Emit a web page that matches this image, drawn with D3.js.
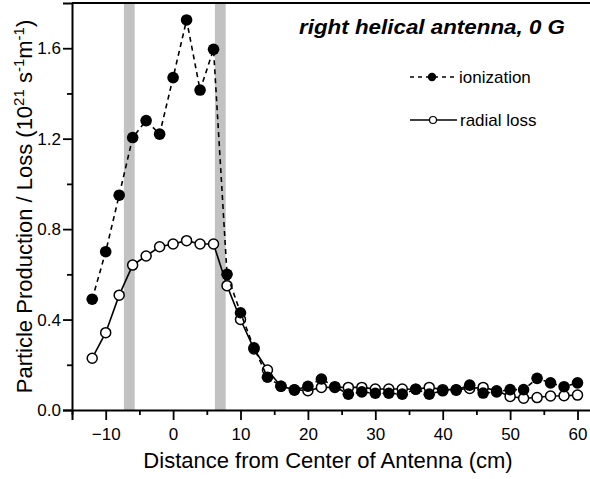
<!DOCTYPE html>
<html>
<head>
<meta charset="utf-8">
<script src="https://cdn.jsdelivr.net/npm/d3@7"></script>
<style>
  body { margin: 0; background: #fff; }
  svg { display: block; font-family: "Liberation Sans", Arial, Helvetica, sans-serif; }
</style>
</head>
<body>
<div id="chart"></div>
<script>
// distance from antenna centre (cm)
const distance = [-12, -10, -8, -6, -4, -2, 0, 2, 4, 6, 8, 10, 12, 14, 16, 18, 20, 22, 24,
  26, 28, 30, 32, 34, 36, 38, 40, 42, 44, 46, 48, 50, 52, 54, 56, 58, 60]

// 10^21 s^-1 m^-1
const ionization = [0.49, 0.70, 0.95, 1.205, 1.28, 1.22, 1.47, 1.725, 1.415, 1.595, 0.60, 0.43, 0.275,
  0.145, 0.105, 0.088, 0.105, 0.137, 0.103, 0.07, 0.08, 0.074, 0.074, 0.07, 0.092, 0.07, 0.085,
  0.088, 0.11, 0.075, 0.08, 0.09, 0.09, 0.14, 0.12, 0.103, 0.12]

const radialLoss = [0.229, 0.342, 0.508, 0.641, 0.681, 0.722, 0.734, 0.749, 0.734, 0.734, 0.55, 0.40, 0.27,
  0.177, 0.105, 0.09, 0.085, 0.10, 0.10, 0.10, 0.10, 0.093, 0.093, 0.093, 0.092, 0.10, 0.09,
  0.09, 0.095, 0.10, 0.085, 0.06, 0.052, 0.055, 0.062, 0.063, 0.066]

// antenna end rings, [from, to] in cm
const bands = [[-7.3, -5.7], [6.2, 7.8]]

const xMajor = [-10, 0, 10, 20, 30, 40, 50, 60]
const xMinor = [-15, -5, 5, 15, 25, 35, 45, 55]
const yMajor = [0, 0.4, 0.8, 1.2, 1.6]
const yMinor = [0.2, 0.6, 1.0, 1.4]

const width = 590, height = 479
const mLeft = 72, mTop = 3, mBottom = 410

const svg = d3.select("#chart").append("svg")
  .attr("width", width)
  .attr("height", height)

const x = d3.scaleLinear().domain([-15, 62]).range([mLeft, 591])
const y = d3.scaleLinear().domain([0, 1.8]).range([mBottom, mTop])

// shaded bands
svg.append("g").selectAll("rect").data(bands).enter().append("rect")
  .attr("x", (d) => x(d[0]))
  .attr("width", (d) => x(d[1]) - x(d[0]))
  .attr("y", y(1.8))
  .attr("height", y(0) - y(1.8))
  .attr("fill", "#c2c2c2")

// axes
const xAxis = svg.append("g").attr("transform", `translate(0,${mBottom})`)
xAxis.call(d3.axisBottom(x).tickValues(xMajor).tickSize(10).tickPadding(8).tickFormat(d3.format("d")))
xAxis.append("g").call(d3.axisBottom(x).tickValues(xMinor).tickSize(5).tickFormat(""))
  .call((g) => g.select(".domain").remove())

const yAxis = svg.append("g").attr("transform", `translate(${mLeft},0)`)
yAxis.call(d3.axisLeft(y).tickValues(yMajor).tickSize(9).tickPadding(2).tickFormat(d3.format(".1f")))
yAxis.append("g").call(d3.axisLeft(y).tickValues(yMinor).tickSize(5).tickFormat(""))
  .call((g) => g.select(".domain").remove())

svg.selectAll(".domain").attr("stroke-width", 2)
svg.selectAll(".tick line").attr("stroke-width", 1.8)
svg.selectAll(".tick text")
  .attr("font-size", 17)
  .attr("font-family", "Liberation Sans, Arial, sans-serif")
  .attr("fill", "#000")

// top frame
svg.append("line")
  .attr("x1", mLeft).attr("x2", width)
  .attr("y1", y(1.8)).attr("y2", y(1.8))
  .attr("stroke", "#000").attr("stroke-width", 2)

const seriesLine = d3.line().x((d, i) => x(distance[i])).y((d) => y(d))

svg.append("path")
  .datum(radialLoss)
  .attr("d", seriesLine)
  .attr("fill", "none")
  .attr("stroke", "#000")
  .attr("stroke-width", 1.6)

svg.append("g").selectAll("circle").data(radialLoss).enter().append("circle")
  .attr("cx", (d, i) => x(distance[i]))
  .attr("cy", (d) => y(d))
  .attr("r", 5)
  .attr("fill", "#fff")
  .attr("stroke", "#000")
  .attr("stroke-width", 1.5)

svg.append("path")
  .datum(ionization)
  .attr("d", seriesLine)
  .attr("fill", "none")
  .attr("stroke", "#000")
  .attr("stroke-width", 1.6)
  .attr("stroke-dasharray", "5,4")

svg.append("g").selectAll("circle").data(ionization).enter().append("circle")
  .attr("cx", (d, i) => x(distance[i]))
  .attr("cy", (d) => y(d))
  .attr("r", 5.8)
  .attr("fill", "#000")

// title
svg.append("text")
  .attr("x", 565).attr("y", 34)
  .attr("text-anchor", "end")
  .attr("font-size", 20)
  .attr("font-weight", "bold")
  .attr("font-style", "italic")
  .attr("textLength", 266)
  .attr("lengthAdjust", "spacingAndGlyphs")
  .text("right helical antenna, 0 G")

// legend
const legend = svg.append("g")
legend.append("line")
  .attr("x1", 410).attr("x2", 457).attr("y1", 77).attr("y2", 77)
  .attr("stroke", "#000").attr("stroke-width", 1.5).attr("stroke-dasharray", "4,4")
legend.append("circle").attr("cx", 432).attr("cy", 77).attr("r", 4.2).attr("fill", "#000")
legend.append("text").attr("x", 459).attr("y", 83).attr("font-size", 17).text("ionization")

legend.append("line")
  .attr("x1", 410).attr("x2", 457).attr("y1", 120).attr("y2", 120)
  .attr("stroke", "#000").attr("stroke-width", 1.5)
legend.append("circle").attr("cx", 433).attr("cy", 120).attr("r", 3.5)
  .attr("fill", "#fff").attr("stroke", "#000").attr("stroke-width", 1.2)
legend.append("text").attr("x", 460).attr("y", 126).attr("font-size", 17).text("radial loss")

// axis titles
svg.append("text")
  .attr("x", 328).attr("y", 468)
  .attr("text-anchor", "middle")
  .attr("font-size", 22)
  .text("Distance from Center of Antenna (cm)")

const yTitle = svg.append("text")
  .attr("transform", `translate(32,${(mTop + mBottom) / 2}) rotate(-90)`)
  .attr("text-anchor", "middle")
  .attr("font-size", 22)
yTitle.append("tspan").text("Particle Production / Loss (10")
yTitle.append("tspan").attr("font-size", 15).attr("baseline-shift", "super").text("21")
yTitle.append("tspan").text(" s")
yTitle.append("tspan").attr("font-size", 15).attr("baseline-shift", "super").text("-1")
yTitle.append("tspan").text("m")
yTitle.append("tspan").attr("font-size", 15).attr("baseline-shift", "super").text("-1")
yTitle.append("tspan").text(")")
</script>
</body>
</html>
